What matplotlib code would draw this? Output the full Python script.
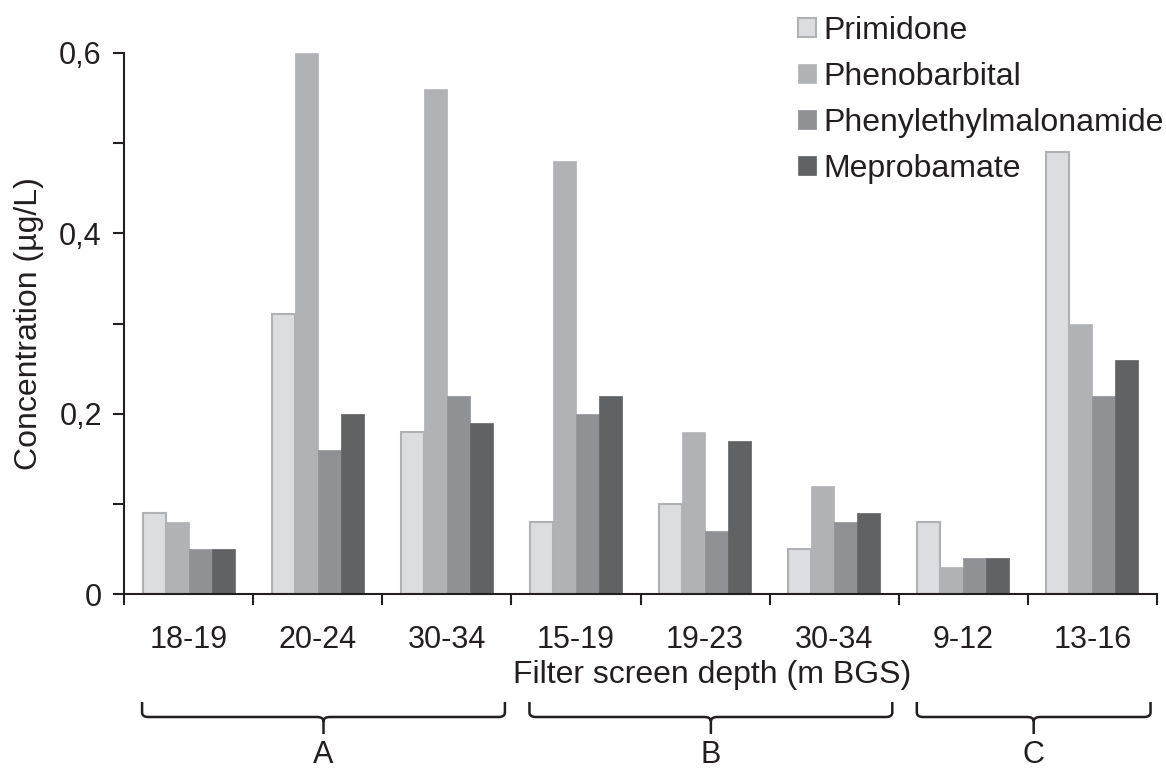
import matplotlib.pyplot as plt
from matplotlib.path import Path
from matplotlib.patches import PathPatch
import numpy as np

plt.rcParams['font.family'] = ['Liberation Sans', 'DejaVu Sans']

# DATA
depths = ['18-19', '20-24', '30-34', '15-19', '19-23', '30-34', '9-12', '13-16']
primidone = [0.09, 0.31, 0.18, 0.08, 0.10, 0.05, 0.08, 0.49]
phenobarbital = [0.08, 0.60, 0.56, 0.48, 0.18, 0.12, 0.03, 0.30]
phenylethylmalonamide = [0.05, 0.16, 0.22, 0.20, 0.07, 0.08, 0.04, 0.22]
meprobamate = [0.05, 0.20, 0.19, 0.22, 0.17, 0.09, 0.04, 0.26]
compounds = ['Primidone', 'Phenobarbital', 'Phenylethylmalonamide', 'Meprobamate']
groups = ['A', 'B', 'C']
group_sizes = [3, 3, 2]

colors = ['#dcdde0', '#b1b2b6', '#909194', '#616264']
edges = ['#b0b1b4', '#b1b2b6', '#909194', '#616264']
ink = '#231f20'

fig = plt.figure(figsize=(11.66, 7.69), dpi=100)
ax = fig.add_axes([124/1166, 1 - 594/769, 1033/1166, 541/769])

x = np.arange(len(depths))
w = 0.178
series = [primidone, phenobarbital, phenylethylmalonamide, meprobamate]
for k, (vals, name) in enumerate(zip(series, compounds)):
    ax.bar(x + (k - 1.5) * w, vals, width=w, color=colors[k], edgecolor=edges[k],
           linewidth=1.5 if k == 0 else 0.5, label=name)

ax.set_xlim(-0.5, len(depths) - 0.5)
ax.set_ylim(0, 0.6)
ax.set_yticks([0, 0.1, 0.2, 0.3, 0.4, 0.5, 0.6])
ax.set_yticklabels(['0', '', '0,2', '', '0,4', '', '0,6'])
ax.set_xticks(np.arange(len(depths) + 1) - 0.5)
ax.set_xticklabels([])
ax.set_xticks(x, minor=True)
ax.set_xticklabels(depths, minor=True)
ax.tick_params(axis='x', which='major', length=8, width=1.5, color=ink, direction='out')
ax.tick_params(axis='x', which='minor', length=0, pad=22, labelsize=22, labelcolor=ink)
ax.tick_params(axis='y', length=8, width=1.5, color=ink, labelsize=22, labelcolor=ink, pad=8)

for s in ['top', 'right']:
    ax.spines[s].set_visible(False)
for s in ['left', 'bottom']:
    ax.spines[s].set_color(ink)
    ax.spines[s].set_linewidth(1.5)

ax.set_ylabel('Concentration (µg/L)', fontsize=23, color=ink, labelpad=11)
ax.set_xlabel('Filter screen depth (m BGS)', fontsize=23, color=ink)
ax.xaxis.set_label_coords(0.5697, -0.122)
ax.xaxis.label.set_va('top')


def px_to_y(py):
    return (594 - py) / 541 * 0.6


def draw_brace(x0, x1, label):
    y_top, y_mid, y_tip = px_to_y(702), px_to_y(717), px_to_y(734)
    xm = (x0 + x1) / 2
    rx = 0.05
    dy = (y_top - y_mid) * 0.3
    verts = [(x0, y_top), (x0, y_mid + dy), (x0, y_mid), (x0 + rx, y_mid),
             (xm - rx, y_mid), (xm, y_mid), (xm, y_mid - dy), (xm, y_tip),
             (xm, y_mid - dy), (xm, y_mid), (xm + rx, y_mid),
             (x1 - rx, y_mid), (x1, y_mid), (x1, y_mid + dy), (x1, y_top)]
    codes = [Path.MOVETO, Path.LINETO, Path.CURVE3, Path.CURVE3,
             Path.LINETO, Path.CURVE3, Path.CURVE3, Path.LINETO,
             Path.MOVETO, Path.CURVE3, Path.CURVE3,
             Path.LINETO, Path.CURVE3, Path.CURVE3, Path.LINETO]
    ax.add_patch(PathPatch(Path(verts, codes), facecolor='none', edgecolor=ink,
                           linewidth=1.8, clip_on=False))
    ax.text(xm, px_to_y(755), label, ha='center', va='center', fontsize=22,
            color=ink, clip_on=False)


start = 0
for g, n in zip(groups, group_sizes):
    draw_brace(start - 0.36, start + n - 1 + 0.45, g)
    start += n

fig.legend(loc='upper left', bbox_to_anchor=(798/1166, 1 - 16/769), frameon=False,
           fontsize=23, handlelength=0.56, handleheight=0.56, handletextpad=0.22,
           labelspacing=0.5, borderpad=0, borderaxespad=0, labelcolor=ink)

fig.savefig('out.png', dpi=100)
